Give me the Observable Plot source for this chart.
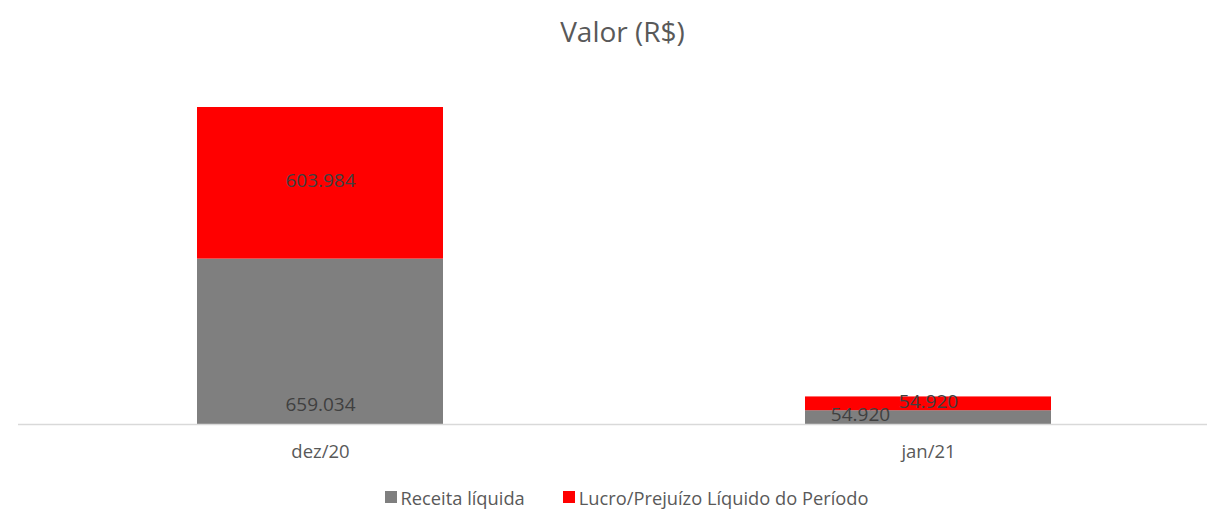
<!DOCTYPE html>
<html>
<head>
<meta charset="utf-8">
<script src="https://cdn.jsdelivr.net/npm/d3@7"></script>
<script src="https://cdn.jsdelivr.net/npm/@observablehq/plot@0.6"></script>
<style>
  html, body { margin: 0; padding: 0; background: #fff; }
  body { width: 1207px; height: 509px; overflow: hidden; font-family: "Open Sans", sans-serif; color: #595959; }
  #title { height: 70px; text-align: center; font-size: 28px; line-height: 28px; padding-top: 17px; box-sizing: border-box; padding-left: 38px; }
  #legend { display: flex; justify-content: center; align-items: center; gap: 38px; font-size: 18.3px; height: 34px; padding-top: 10px; padding-left: 46px; box-sizing: border-box; }
  .item { display: flex; align-items: center; }
  .sw { width: 12px; height: 12px; margin-right: 4px; }
</style>
</head>
<body>
<div id="title">Valor (R$)</div>
<div id="chart"></div>
<div id="legend"></div>
<script>
const categories = ["dez/20", "jan/21"];
const seriesNames = ["Receita líquida", "Lucro/Prejuízo Líquido do Período"];
const receita = [659034, 54920];
const lucro = [603984, 54920];
const colors = ["#7f7f7f", "#ff0000"];

const data = [];
categories.forEach((c, i) => {
  data.push({cat: c, series: seriesNames[0], value: receita[i]});
  data.push({cat: c, series: seriesNames[1], value: lucro[i]});
});

const br = d3.formatLocale({decimal: ",", thousands: ".", grouping: [3], currency: ["R$", ""]});
const fmt = br.format(",d");

const gray = data.filter(d => d.series === seriesNames[0]);

const chart = Plot.plot({
  width: 1207,
  height: 405,
  marginTop: 37,
  marginBottom: 51,
  marginLeft: 18,
  marginRight: 0,
  style: {fontFamily: "Open Sans, sans-serif", fontSize: "18px", color: "#595959", background: "#fff"},
  x: {domain: categories, range: [197, 1051], paddingInner: 0.5954, paddingOuter: 0, align: 0.5, label: null},
  y: {axis: null},
  color: {domain: seriesNames, range: colors},
  marks: [
    Plot.barY(data, {x: "cat", y: "value", fill: "series", z: "series", order: null}),
    Plot.ruleY([0], {stroke: "#d9d9d9", strokeWidth: 1.5}),
    Plot.axisX({tickSize: 0, tickPadding: 20, fontSize: 18.5, fill: "#595959"}),
    Plot.text(data, Plot.stackY({x: "cat", y: "value", z: "series", order: null,
      text: d => d.series === seriesNames[1] ? fmt(d.value) : "", fill: "#404040", fontSize: 19, dy: -2})),
    Plot.text(gray.filter(d => d.cat === categories[0]), {x: "cat", y: 0, text: d => fmt(d.value), dy: -20, fill: "#404040", fontSize: 19}),
    Plot.text(gray.filter(d => d.cat === categories[1]), {x: "cat", y: 0, text: d => fmt(d.value), dy: -10, dx: -68, fill: "#404040", fontSize: 19})
  ]
});
document.getElementById("chart").appendChild(chart);

const legend = document.getElementById("legend");
seriesNames.forEach((s, i) => {
  const item = document.createElement("div");
  item.className = "item";
  const sw = document.createElement("span");
  sw.className = "sw";
  sw.style.background = colors[i];
  const t = document.createElement("span");
  t.textContent = s;
  item.appendChild(sw);
  item.appendChild(t);
  legend.appendChild(item);
});
</script>
</body>
</html>
